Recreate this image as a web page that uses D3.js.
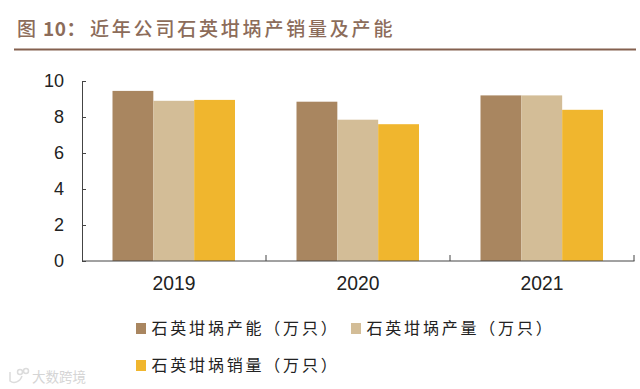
<!DOCTYPE html>
<html>
<head>
<meta charset="utf-8">
<script src="https://cdnjs.cloudflare.com/ajax/libs/d3/7.8.5/d3.min.js"></script>
<style>
  html, body { margin: 0; padding: 0; background: #fff; }
  text { font-family: "Liberation Sans", Arial, sans-serif; }
  .cjk { font-family: "Noto Sans CJK SC", sans-serif; }
</style>
</head>
<body>
<div id="chart"></div>
<script>
const years = ["2019", "2020", "2021"];
const seriesNames = ["石英坩埚产能（万只）", "石英坩埚产量（万只）", "石英坩埚销量（万只）"];
const capacity = [9.45, 8.85, 9.2];
const output = [8.9, 7.85, 9.2];
const sales = [8.95, 7.6, 8.4];
const yTicks = [0, 2, 4, 6, 8, 10];
const colors = ["#a98660", "#d3bd97", "#f0b62e"];

const width = 640, height = 389;
const allSeries = [capacity, output, sales];

const svg = d3.select("#chart").append("svg")
    .attr("width", width)
    .attr("height", height)
    .style("display", "block");

// TITLE
const title = svg.append("text")
    .attr("class", "cjk")
    .attr("x", 17)
    .attr("y", 36)
    .attr("fill", "#8c6c5a")
    .attr("font-size", 19)
    .attr("font-weight", 500)
    .attr("letter-spacing", 2.8);
title.append("tspan").text("图");
title.append("tspan").attr("x", 43).attr("font-weight", 700).attr("letter-spacing", 0.5).text("10：");
title.append("tspan").attr("x", 90).text("近年公司石英坩埚产销量及产能");
svg.append("line")
    .attr("x1", 14).attr("x2", 636)
    .attr("y1", 49.5).attr("y2", 49.5)
    .attr("stroke", "#84604f")
    .attr("stroke-width", 2);

// SCALES
const x = d3.scaleBand().domain(years).range([82, 634]);
const x1 = d3.scaleBand().domain(d3.range(3)).range([30.5, 153]);
const y = d3.scaleLinear().domain([0, 10]).range([261, 81]);

// BARS
allSeries.forEach(function(values, s) {
    svg.append("g").selectAll("rect")
        .data(values)
        .enter()
        .append("rect")
            .attr("x", function(d, i) {return x(years[i]) + x1(s)})
            .attr("y", function(d) {return y(d)})
            .attr("width", x1.bandwidth())
            .attr("height", function(d) {return y(0) - y(d)})
            .attr("fill", colors[s]);
});

// AXES
const yAxis = svg.append("g")
    .attr("transform", "translate(82,0)")
    .call(d3.axisLeft(y).tickValues(yTicks).tickSize(-4).tickPadding(18).tickFormat(d3.format("d")));
yAxis.selectAll("text").attr("font-size", 18).attr("fill", "#222").style("font-family", "'Liberation Sans', Arial, sans-serif");
yAxis.selectAll("line,path").attr("stroke", "#444");

const xAxis = svg.append("g")
    .attr("transform", "translate(0,261)")
    .call(d3.axisBottom(x).tickSize(0).tickPadding(15));
xAxis.selectAll("text").attr("font-size", 19.3).attr("fill", "#222").style("font-family", "'Liberation Sans', Arial, sans-serif");
xAxis.select("path").attr("stroke", "#444").attr("d", "M82.5,0H634.5");
xAxis.selectAll(".bound")
    .data(d3.range(1, 4))
    .enter()
    .append("line")
        .attr("class", "bound")
        .attr("x1", function(d) {return x(years[0]) + d * x.step()})
        .attr("x2", function(d) {return x(years[0]) + d * x.step()})
        .attr("y1", -6).attr("y2", 0)
        .attr("stroke", "#444");

// LEGEND
const legendPos = [[136, 328], [351, 328], [136, 365]];
seriesNames.forEach(function(name, i) {
    const g = svg.append("g").attr("transform", `translate(${legendPos[i][0]},${legendPos[i][1]})`);
    g.append("rect")
        .attr("x", 0).attr("y", -5)
        .attr("width", 10).attr("height", 11)
        .attr("fill", colors[i]);
    g.append("text")
        .attr("class", "cjk")
        .attr("x", 15.5)
        .attr("y", 6)
        .attr("font-size", 16)
        .attr("letter-spacing", 2.8)
        .attr("fill", "#222")
        .text(name);
});

// WATERMARK
const mark = svg.append("g").attr("fill", "none").attr("stroke", "#dcdcdc").attr("stroke-width", 1.5);
mark.append("path").attr("d", "M10,372V381C14,384 20,382 22,376");
mark.append("circle").attr("cx", 20).attr("cy", 372).attr("r", 2.5);
mark.append("circle").attr("cx", 26).attr("cy", 371).attr("r", 2.5);
svg.append("text")
    .attr("class", "cjk")
    .attr("x", 32)
    .attr("y", 382)
    .attr("font-size", 13.5)
    .attr("fill", "#d5d5d5")
    .text("大数跨境");
</script>
</body>
</html>
